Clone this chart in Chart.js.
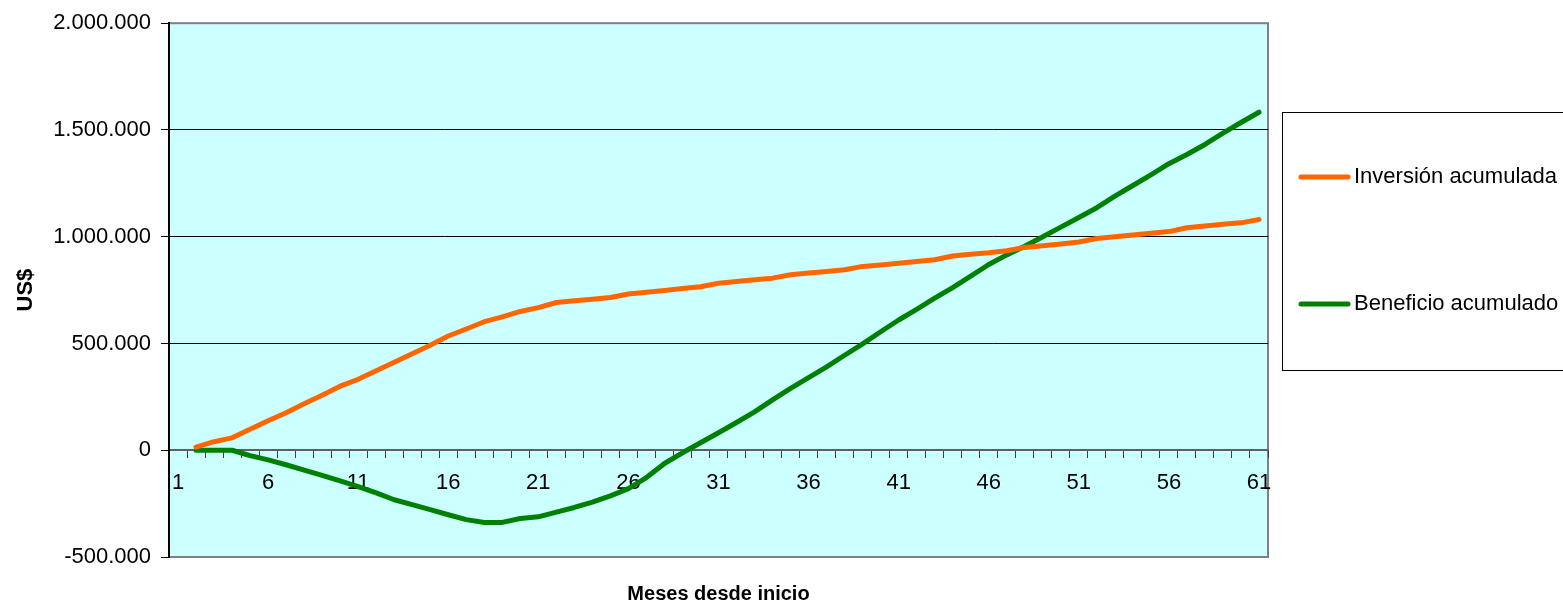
<!DOCTYPE html>
<html lang="es">
<head>
  <meta charset="UTF-8" />
  <title>Inversión y beneficio acumulado</title>
  <script src="https://cdn.jsdelivr.net/npm/chart.js"></script>
  <style>
    body { margin: 0; background: #fff; }
    #wrap { width: 1563px; height: 606px; }
  </style>
</head>
<body>
  <div id="wrap">
    <canvas id="chart" width="1563" height="606"></canvas>
  </div>

  <script>
    // months 1..61
    const meses = Array.from({ length: 61 }, (_, i) => String(i + 1));

    const inversion = [
      null, 15000, 40000, 58000, 98000, 138000, 176000, 218000, 258000, 300000,
      332000, 372000, 412000, 452000, 492000, 535000, 568000, 602000, 625000, 650000,
      668000, 692000, 700000, 707000, 715000, 732000, 740000, 748000, 757000, 766000,
      782000, 790000, 798000, 806000, 822000, 830000, 837000, 845000, 861000, 868000,
      876000, 884000, 892000, 910000, 918000, 925000, 934000, 950000, 958000, 966000,
      975000, 992000, 1000000, 1008000, 1016000, 1024000, 1042000, 1050000, 1058000, 1065000,
      1081000
    ];

    const beneficio = [
      null, 0, 0, 0, -25000, -45000, -68000, -93000, -118000, -143000,
      -170000, -200000, -232000, -255000, -278000, -302000, -325000, -338000, -338000, -320000,
      -312000, -290000, -268000, -243000, -214000, -180000, -128000, -62000, -12000, 35000,
      82000, 130000, 180000, 236000, 290000, 340000, 390000, 445000, 498000, 555000,
      610000, 660000, 712000, 762000, 815000, 870000, 915000, 955000, 1000000, 1045000,
      1090000, 1136000, 1190000, 1240000, 1290000, 1342000, 1385000, 1432000, 1485000, 1535000,
      1583000
    ];

    const nombres = ['Inversión acumulada', 'Beneficio acumulado'];
    const colores = ['#FF6600', '#008000'];

    const FONT = '"Liberation Sans", Arial, sans-serif';

    function miles(v) {
      return String(v).replace(/\B(?=(\d{3})+(?!\d))/g, '.');
    }

    // cyan plot area + grey frame
    const plotBg = {
      id: 'plotBg',
      beforeDraw(chart) {
        const { ctx, chartArea: a } = chart;
        ctx.save();
        ctx.fillStyle = '#CCFFFF';
        ctx.fillRect(a.left, a.top, a.right - a.left, a.bottom - a.top);
        ctx.strokeStyle = '#808080';
        ctx.lineWidth = 2;
        ctx.strokeRect(a.left, a.top, a.right - a.left, a.bottom - a.top);
        ctx.restore();
      }
    };

    // legend box on the right, clipped by the canvas edge like the original
    const legendBox = {
      id: 'legendBox',
      afterDraw(chart) {
        const ctx = chart.ctx;
        ctx.save();
        ctx.fillStyle = '#fff';
        ctx.strokeStyle = '#000';
        ctx.lineWidth = 1;
        ctx.fillRect(1282, 112, 300, 258);
        ctx.strokeRect(1282.5, 112.5, 300, 258);
        const ys = [177, 304];
        ctx.font = '22px ' + FONT;
        ctx.textBaseline = 'middle';
        nombres.forEach((n, i) => {
          ctx.strokeStyle = colores[i];
          ctx.lineWidth = 5;
          ctx.lineCap = 'round';
          ctx.beginPath();
          ctx.moveTo(1301, ys[i]);
          ctx.lineTo(1348, ys[i]);
          ctx.stroke();
          ctx.fillStyle = '#000';
          ctx.fillText(n, 1354, ys[i]);
        });
        ctx.restore();
      }
    };

    new Chart(document.getElementById('chart'), {
      type: 'line',
      data: {
        labels: meses,
        datasets: [
          {
            label: nombres[0],
            data: inversion,
            borderColor: colores[0],
            borderWidth: 5,
            pointRadius: 0,
            tension: 0,
            borderCapStyle: 'round',
            borderJoinStyle: 'round'
          },
          {
            label: nombres[1],
            data: beneficio,
            borderColor: colores[1],
            borderWidth: 5,
            pointRadius: 0,
            tension: 0,
            borderCapStyle: 'round',
            borderJoinStyle: 'round'
          }
        ]
      },
      options: {
        responsive: false,
        animation: false,
        layout: { padding: { left: 0, right: 295, top: 20, bottom: 0 } },
        plugins: {
          legend: { display: false },
          tooltip: { enabled: false },
          title: {
            display: true,
            text: 'Meses desde inicio',
            position: 'bottom',
            fullSize: false,
            color: '#000',
            font: { family: FONT, size: 20, weight: 'bold' },
            padding: { top: 25, bottom: 0 }
          }
        },
        scales: {
          x: {
            position: { y: 0 },
            offset: true,
            afterFit(s) { s.height = 0; },
            grid: {
              offset: true,
              drawOnChartArea: false,
              drawTicks: true,
              tickLength: 7,
              tickColor: '#404040'
            },
            border: { color: '#606060', width: 2 },
            ticks: {
              autoSkip: false,
              maxRotation: 0,
              padding: 12,
              color: '#000',
              font: { family: FONT, size: 22 },
              callback: (v, i) => (i % 5 === 0 ? meses[i] : '')
            }
          },
          y: {
            min: -500000,
            max: 2000000,
            afterFit(s) { s.width = 169; },
            grid: {
              color: c => {
                const v = c.tick && c.tick.value;
                if (v === 0) return 'rgba(0,0,0,0)';
                if (v === -500000 || v === 2000000) return '#808080';
                return '#000';
              },
              lineWidth: 1,
              tickLength: 8,
              tickColor: '#000'
            },
            border: { color: '#000', width: 2 },
            ticks: {
              stepSize: 500000,
              padding: 10,
              color: '#000',
              font: { family: FONT, size: 22 },
              callback: v => miles(v)
            },
            title: {
              display: true,
              text: 'US$',
              color: '#000',
              font: { family: FONT, size: 22, weight: 'bold' },
              padding: { top: 13, bottom: 0 }
            }
          }
        }
      },
      plugins: [plotBg, legendBox]
    });
  </script>
</body>
</html>
